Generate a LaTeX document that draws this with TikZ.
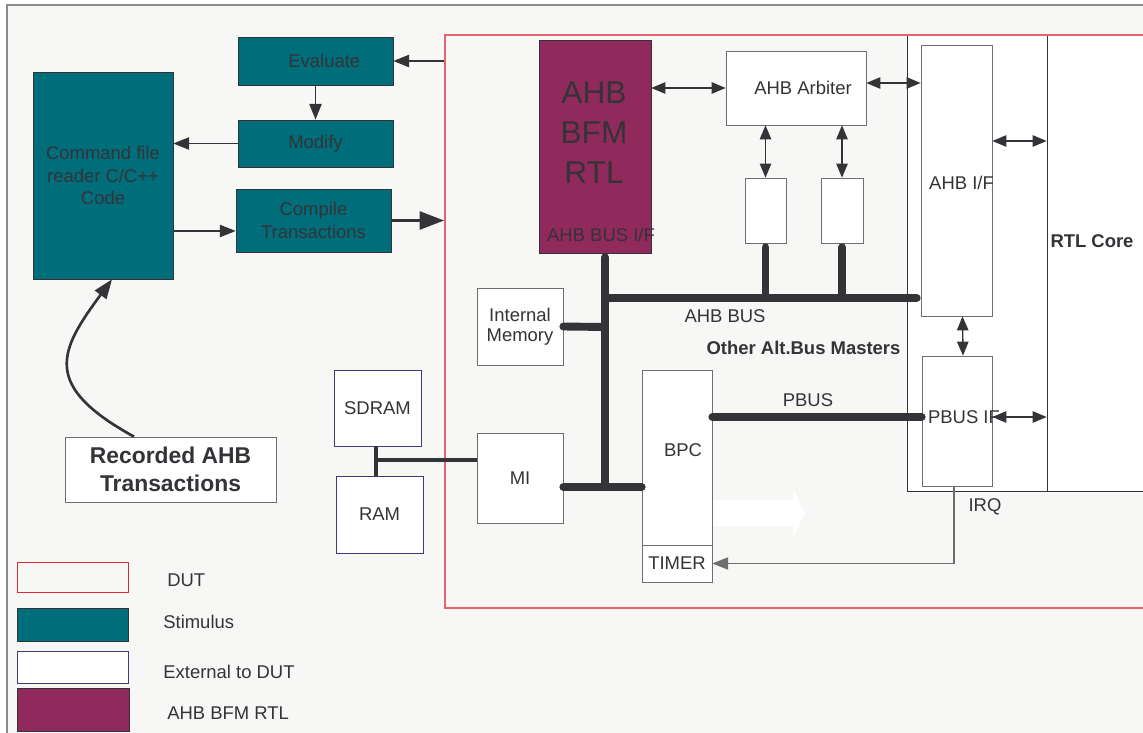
\documentclass[tikz,border=0pt]{standalone}
\usepackage{fontspec}
\setmainfont{Liberation Sans}
\usetikzlibrary{arrows.meta}
\definecolor{stimteal}{RGB}{0,110,122}
\definecolor{bfmpurple}{RGB}{145,42,92}
\definecolor{pagebg}{RGB}{247,247,245}
\definecolor{dutred}{RGB}{232,100,106}
\definecolor{lgred}{RGB}{226,40,44}
\definecolor{extblue}{RGB}{60,60,120}
\definecolor{inkgray}{RGB}{51,51,56}
\definecolor{boxgray}{RGB}{110,110,110}

\begin{document}
\begin{tikzpicture}[x=0.02cm, y=-0.02cm,
    every node/.style={font=\fontsize{10.5}{13}\selectfont, text=inkgray},
    stim/.style={draw=inkgray, fill=stimteal, rectangle, align=center, inner sep=0pt},
    blk/.style={draw=boxgray, fill=white, rectangle, align=center, inner sep=0pt},
    ext/.style={draw=extblue, fill=white, rectangle, align=center, inner sep=0pt},
    lgbox/.style={minimum width=2.22cm, inner sep=0pt},
    lgtext/.style={anchor=west, inner sep=0pt},
    arr/.style={draw=inkgray, line width=0.8pt, -{Triangle[length=9pt, width=7pt]}},
    dbl/.style={draw=inkgray, line width=0.8pt, {Triangle[length=8pt, width=6.5pt]}-{Triangle[length=8pt, width=6.5pt]}},
    bus/.style={draw=inkgray, line width=4.5pt, line cap=round},
    membus/.style={draw=inkgray, line width=2.3pt}]
    \useasboundingbox (0,0) rectangle (1143,733);
    \clip (0,0) rectangle (1143,733);

    % page
    \fill[white] (0,0) rectangle (1143,733);
    \fill[pagebg] (7,5) rectangle (1143,733);
    \draw[boxgray!80, line width=1pt] (7,733) -- (7,5) -- (1143,5);

    % stimulus side
    \node[stim, minimum width=2.8cm, minimum height=4.14cm] (cmd) at (103,175.5) {Command file\\reader C/C++\\Code};
    \node[stim, minimum width=3.1cm, minimum height=0.96cm] (eval) at (315.5,61) {\hspace{10pt}Evaluate};
    \node[stim, minimum width=3.1cm, minimum height=0.94cm] (modify) at (315.5,143.5) {Modify};
    \node[stim, minimum width=3.1cm, minimum height=1.26cm] (compile) at (313.5,220.5) {Compile\\Transactions};
    \node[blk, minimum width=4.22cm, minimum height=1.3cm, font=\bfseries\fontsize{13}{15.9}\selectfont] (rec) at (170.5,469.5) {Recorded AHB\\Transactions};

    % external memories
    \node[ext, minimum width=1.74cm, minimum height=1.52cm] (sdram) at (377.5,408) {SDRAM};
    \node[ext, minimum width=1.74cm, minimum height=1.54cm] (ram) at (379.5,514.5) {RAM};

    % interface block and core
    \node[blk, draw=inkgray, minimum width=2.8cm, minimum height=9.12cm] (ifwrap) at (977,263) {};
    \node[blk, draw=inkgray, minimum width=3.06cm, minimum height=9.12cm] (core) at (1123.5,263) {};
    \node[font=\bfseries\fontsize{10.5}{13}\selectfont] (corelbl) at (1092,241) {RTL Core};
    \node[blk, minimum width=1.42cm, minimum height=5.42cm] (ahbif) at (956.5,180.5) {};
    \node (ahbiftxt) at (961.5,183) {AHB I/F};
    \node[blk, minimum width=1.4cm, minimum height=2.6cm] (pbusif) at (957,421) {};
    \node (pbusiftxt) at (964,417) {PBUS IF};

    % DUT
    \node[draw=dutred, line width=0.9pt, minimum width=15.1cm, minimum height=11.46cm, inner sep=0pt] (dut) at (822.5,321.5) {};
    \fill[white] (712,500) -- (793,500) -- (793,488) -- (805,513) -- (793,538) -- (793,526) -- (712,526) -- cycle;

    \node[stim, fill=bfmpurple, minimum width=2.24cm, minimum height=4.26cm] (bfm) at (595,146.5) {};
    \node[font=\fontsize{18}{22.7}\selectfont, align=center] (bfmname) at (594,133) {AHB\\BFM\\RTL};
    \node (bfmport) at (601,235) {AHB BUS I/F};
    \node[blk, minimum width=2.8cm, minimum height=1.48cm] (arb) at (796,88) {\hspace{8pt}AHB Arbiter};
    \node[blk, minimum width=0.82cm, minimum height=1.3cm] (sm1) at (765.5,210.5) {};
    \node[blk, minimum width=0.84cm, minimum height=1.3cm] (sm2) at (842,210.5) {};
    \node[blk, minimum width=1.72cm, minimum height=1.54cm, font=\fontsize{10.5}{11.5}\selectfont] (imem) at (520,326.5) {Internal\\Memory};
    \node[blk, minimum width=1.72cm, minimum height=1.8cm] (mi) at (520,478) {MI};
    \node[blk, minimum width=1.4cm, minimum height=3.5cm] (bpc) at (677,457.5) {};
    \node (bpctxt) at (683,450) {BPC};
    \node[blk, minimum width=1.4cm, minimum height=0.74cm] (timer) at (677,563.5) {TIMER};

    \node (ahbbus) at (725,316) {AHB BUS};
    \node[font=\bfseries\fontsize{10.5}{13}\selectfont] (altmasters) at (803.5,347.5) {Other Alt.Bus Masters};
    \node (pbus) at (808,400) {PBUS};
    \node (irq) at (985,507) {IRQ};

    % legend
    \node[lgbox, draw=lgred, minimum height=0.6cm] (lgdut) at (73,577) {};
    \node[lgbox, stim, minimum height=0.66cm] (lgstim) at (73,624.5) {};
    \node[lgbox, ext, minimum height=0.64cm] (lgext) at (73,667) {};
    \node[lgbox, stim, fill=bfmpurple, minimum width=2.24cm, minimum height=0.86cm] (lgbfm) at (73,709.5) {};
    \node[lgtext] (lgduttxt) at (167,580) {DUT};
    \node[lgtext] (lgstimtxt) at (163,622) {Stimulus};
    \node[lgtext] (lgexttxt) at (163,671.5) {External to DUT};
    \node[lgtext] (lgbfmtxt) at (167,713.5) {AHB BFM RTL};

    % stimulus flow
    \draw[arr] (dut.west |- eval) -- (eval);
    \draw[arr] (eval) -- (modify);
    \draw[arr] (modify) -- (cmd.east |- modify);
    \draw[arr] (cmd.east |- 0,231) -- (compile.west |- 0,231);
    \draw[draw=inkgray, line width=2.2pt, -{Triangle[length=14pt, width=10pt]}] (compile) -- (dut.west |- compile);
    \draw[draw=inkgray, line width=1.5pt, -{Triangle[length=11pt, width=8pt]}] (rec.north -| 134,0) .. controls (40,385) and (60,350) .. (cmd.south -| 112,0);

    % handshakes
    \draw[dbl] (bfm.east |- arb) -- (arb);
    \draw[dbl] (arb.east |- 0,83) -- (ahbif.west |- 0,83);
    \draw[dbl] (arb.south -| sm1) -- (sm1);
    \draw[dbl] (arb.south -| sm2) -- (sm2);
    \draw[dbl] ([xshift=0.12cm]ahbif.south) -- ([xshift=0.12cm]pbusif.north);
    \draw[dbl] (ahbif.east |- 0,141) -- (core.west |- 0,141);
    \draw[dbl] (pbusif.east |- 0,417) -- (core.west |- 0,417);
    \draw[arr, draw=boxgray, line width=0.6pt] (pbusif.south -| 954,0) |- (timer);

    % buses
    \coordinate (j1) at (605,298);
    \coordinate (j2) at (605,327);
    \coordinate (j3) at (605,487);
    \coordinate (memtap) at (376,460);
    \draw[bus, shorten <=2.25pt] (bfm.south -| j1) -- (j3);
    \draw[bus, shorten >=2.25pt] (j1) -- (ahbif.west |- j1);
    \draw[bus, shorten <=2.25pt] (sm1.south) -- (sm1.south |- j1);
    \draw[bus, shorten <=2.25pt] (sm2.south) -- (sm2.south |- j1);
    \draw[bus] (imem.east) -- (j2);
    \draw[bus] (mi.east |- j3) -- (bpc.west |- j3);
    \draw[bus] (bpc.east |- 0,417) -- (pbusif.west |- 0,417);
    \draw[membus] (sdram.south -| memtap) -- (ram.north -| memtap);
    \draw[membus] (memtap) -- (mi.west |- memtap);
\end{tikzpicture}
\end{document}
